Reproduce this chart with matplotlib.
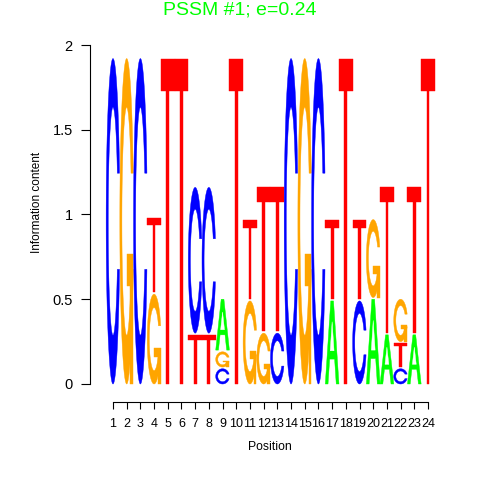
import numpy as np
import matplotlib
matplotlib.use('Agg')
import matplotlib.pyplot as plt
from matplotlib.patches import Polygon

# logo data: letters of each column from bottom to top, with their heights (bits)
positions = list(range(1, 25))
col_letters = [
  ['C'], ['G'], ['C'], ['G', 'T'], ['T'], ['T'],
  ['T', 'C'], ['T', 'C'], ['C', 'G', 'A'], ['T'], ['G', 'T'], ['G', 'T'],
  ['C', 'T'], ['C'], ['G'], ['C'], ['A', 'T'], ['T'],
  ['C', 'T'], ['A', 'G'], ['A', 'T'], ['C', 'T', 'G'], ['A', 'T'], ['T'],
]
col_heights = [
  [1.92], [1.92], [1.92], [0.53, 0.44], [1.92], [1.92],
  [0.29, 0.86], [0.29, 0.86], [0.09, 0.09, 0.30], [1.92], [0.49, 0.47], [0.30, 0.85],
  [0.30, 0.85], [1.92], [1.92], [1.92], [0.49, 0.47], [1.92],
  [0.49, 0.47], [0.50, 0.46], [0.29, 0.86], [0.09, 0.14, 0.25], [0.29, 0.86], [1.92],
]
letter_colors = {'A': '#00FF00', 'C': '#0000FF', 'G': '#FFA500', 'T': '#FF0000'}


# letter outlines in a unit box (same shapes as R seqLogo)
def c_outline():
  a1 = np.linspace(0.3 + np.pi/2, np.pi, 100)
  a2 = np.linspace(np.pi, 1.5*np.pi, 100)
  xl = np.concatenate([0.5 + 0.5*np.sin(a1), 0.5 + 0.5*np.sin(a2)])
  yl = np.concatenate([0.5 + 0.5*np.cos(a1), 0.5 + 0.5*np.cos(a2)])
  ymax = (0.5 + 0.5*np.cos(a1)).max()
  x = np.concatenate([xl, xl[::-1]])
  y = np.concatenate([yl, 1 - yl[::-1]])
  xi1 = 0.5 + 0.35*np.sin(a1)
  yi1 = 0.5 + 0.35*np.cos(a1)
  keep = yi1 <= ymax
  xi1 = xi1[keep]
  yi1 = yi1[keep]
  yi1[0] = ymax
  xi = np.concatenate([xi1, 0.5 + 0.35*np.sin(a2)])
  yi = np.concatenate([yi1, 0.5 + 0.35*np.cos(a2)])
  x1 = np.concatenate([xi, xi[::-1]])
  y1 = np.concatenate([yi, 1 - yi[::-1]])
  x = np.concatenate([x, x1[::-1]])
  y = np.concatenate([y, y1[::-1]])
  return x, y, (0.5 + 0.5*np.sin(a1)).max()

def letter_parts(letter):
  col = letter_colors[letter]
  if letter == 'A':
    return [(np.array([0, 4, 6, 10, 8, 6.8, 3.2, 2, 0])*0.1,
             np.array([0, 10, 10, 0, 0, 3, 3, 0, 0])*0.1, col),
            (np.array([3.6, 5, 6.4, 3.6])*0.1,
             np.array([4, 7.5, 4, 4])*0.1, 'white')]
  if letter == 'T':
    return [(np.array([0, 10, 10, 6, 6, 4, 4, 0])*0.1,
             np.array([10, 10, 9, 9, 0, 0, 9, 9])*0.1, col)]
  x, y, r1 = c_outline()
  parts = [(x, y, col)]
  if letter == 'G':
    h1 = 0.4
    parts.append((np.array([r1, 0.5, 0.5, r1-0.2, r1-0.2, r1, r1]),
                  np.array([h1, h1, h1-0.1, h1-0.1, 0, 0, h1]), col))
  return parts


plt.rcParams['font.family'] = ['Liberation Sans', 'DejaVu Sans']
fig = plt.figure(figsize = (4.8, 4.8), dpi = 100)
ax = fig.add_axes([90/480, 78/480, 360/480, 362/480])

for pos, letters, hts in zip(positions, col_letters, col_heights):
  y0 = 0
  for letter, ht in zip(letters, hts):
    for px, py, col in letter_parts(letter):
      xy = np.column_stack([pos - 0.5 + px, y0 + ht*py])
      ax.add_patch(Polygon(xy, closed = True, facecolor = col,
                           edgecolor = col, linewidth = 0.3))
    y0 += ht + 0.01

ax.set_xlim(-0.679, 25.606)
ax.set_ylim(-0.1062, 2.0295)
for s in ['top', 'right']:
  ax.spines[s].set_visible(False)
ax.spines['left'].set_bounds(0, 2)
ax.spines['bottom'].set_bounds(1, 24)
ax.spines['left'].set_linewidth(0.8)
ax.spines['bottom'].set_linewidth(0.8)
ax.set_yticks([0, 0.5, 1, 1.5, 2])
ax.set_yticklabels(['0', '0.5', '1', '1.5', '2'], fontsize = 10.5)
ax.set_xticks(positions)
ax.set_xticklabels([str(p) for p in positions], fontsize = 9)
ax.tick_params(axis = 'y', length = 6.5, width = 0.8, pad = 6)
ax.tick_params(axis = 'x', length = 4.8, width = 0.8, pad = 7)
ax.set_xlabel('Position', fontsize = 8.8, labelpad = 8)
fig.text(37/480, 1 - 202/480, 'Information content', rotation = 90,
         ha = 'center', va = 'center', fontsize = 8.5)
fig.text(0.5, 1 - 10/480, 'PSSM #1; e=0.24', color = '#00FF00',
         ha = 'center', va = 'center', fontsize = 14)

plt.savefig('out.png', dpi = 100)
plt.close()
